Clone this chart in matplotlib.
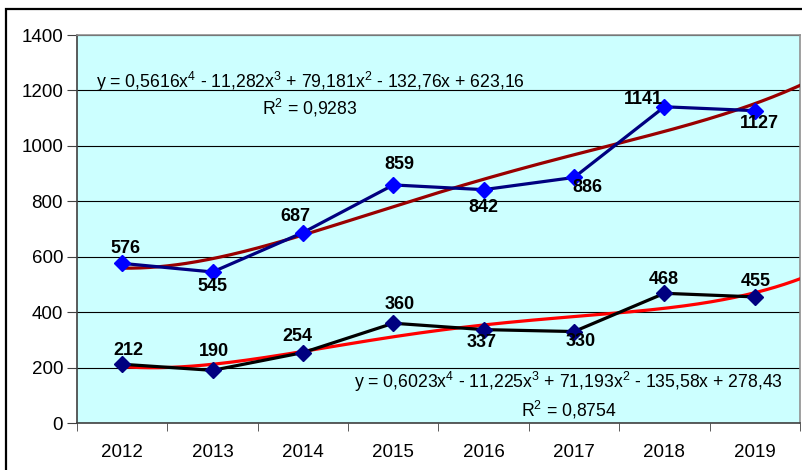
import numpy as np
import matplotlib.pyplot as plt
from matplotlib.patches import Rectangle

plt.rcParams['font.family'] = ['Liberation Sans', 'DejaVu Sans']
plt.rcParams['mathtext.fontset'] = 'custom'
plt.rcParams['mathtext.rm'] = 'Liberation Sans'
plt.rcParams['mathtext.it'] = 'Liberation Sans'

# === Dati ===
years = ['2012', '2013', '2014', '2015', '2016', '2017', '2018', '2019']
serie_alta = [576, 545, 687, 859, 842, 886, 1141, 1127]
serie_bassa = [212, 190, 254, 360, 337, 330, 468, 455]

# spostamento etichette (px): dx, dy
off_alta = [(3, 15), (0, -15), (-8, 16), (6, 20), (0, -18), (13, -10), (-21, 7), (5, -13)]
off_bassa = [(6, 14), (1, 19), (-6, 16), (6, 19), (-2, -13), (7, -10), (-1, 14), (1, 15)]

eq_alta = "y = 0,5616x$^{4}$ - 11,282x$^{3}$ + 79,181x$^{2}$ - 132,76x + 623,16"
r2_alta = "R$^{2}$ = 0,9283"
eq_bassa = "y = 0,6023x$^{4}$ - 11,225x$^{3}$ + 71,193x$^{2}$ - 135,58x + 278,43"
r2_bassa = "R$^{2}$ = 0,8754"

W, H = 803, 470
fig = plt.figure(figsize=(W / 100, H / 100), dpi=100)
ax = fig.add_axes([77 / W, 1 - 423 / H, (800 - 77) / W, (423 - 35) / H])
ax.set_facecolor('#CCFFFF')

x = np.arange(1, len(years) + 1)

# === Trend polinomiali (4 grado) ===
xx = np.linspace(1, 8.5, 300)
c_alta = np.polyfit(x, serie_alta, 4)
c_bassa = np.polyfit(x, serie_bassa, 4)
ax.plot(xx, np.polyval(c_alta, xx), color='#990000', lw=2.3, zorder=3)
ax.plot(xx, np.polyval(c_bassa, xx), color='#FF0000', lw=2.3, zorder=3)

# === Serie ===
ax.plot(x, serie_alta, color='#000080', lw=2.3, marker='D', ms=8.5,
        mfc='#0000FF', mec='#0000FF', zorder=4)
ax.plot(x, serie_bassa, color='black', lw=2.3, marker='D', ms=8.5,
        mfc='#000080', mec='#000080', zorder=4)

for xi, v, (dx, dy) in zip(x, serie_alta, off_alta):
    ax.annotate(str(v), (xi, v), xytext=(dx * 0.72, dy * 0.72), textcoords='offset points',
                ha='center', va='center', fontsize=13, fontweight='bold', zorder=5)
for xi, v, (dx, dy) in zip(x, serie_bassa, off_bassa):
    ax.annotate(str(v), (xi, v), xytext=(dx * 0.72, dy * 0.72), textcoords='offset points',
                ha='center', va='center', fontsize=13, fontweight='bold', zorder=5)

# === Equazioni ===
ax.text(3.08, 1230, eq_alta, ha='center', va='center', fontsize=12.7, zorder=5)
ax.text(3.08, 1137, r2_alta, ha='center', va='center', fontsize=12.7, zorder=5)
ax.text(5.94, 148, eq_bassa, ha='center', va='center', fontsize=12.7, zorder=5)
ax.text(5.94, 47, r2_bassa, ha='center', va='center', fontsize=12.7, zorder=5)

# === Assi ===
ax.set_xlim(0.5, 8.5)
ax.set_ylim(0, 1400)
ax.set_yticks(np.arange(0, 1401, 200))
ax.set_xticks(x)
ax.set_xticklabels(years)
ax.set_xticks(np.arange(0.5, 8.6, 1), minor=True)
ax.tick_params(axis='x', which='major', length=0, pad=15, labelsize=13.5)
ax.tick_params(axis='x', which='minor', length=6, direction='out', color='#404040')
ax.tick_params(axis='y', length=7, direction='out', pad=3, labelsize=13.5, color='#404040')
ax.grid(axis='y', color='black', lw=0.8)
ax.set_axisbelow(True)
for s in ['top', 'right']:
    ax.spines[s].set_color('#909090')
    ax.spines[s].set_linewidth(1.2)
for s in ['left', 'bottom']:
    ax.spines[s].set_color('#404040')
    ax.spines[s].set_linewidth(1.2)

# === Cornice esterna ===
fig.patches.append(Rectangle((6 / W, -0.1), 1.2, 1 - 9 / H + 0.1, transform=fig.transFigure,
                             fill=False, edgecolor='black', lw=1.6))

fig.savefig('out.png', dpi=100)
